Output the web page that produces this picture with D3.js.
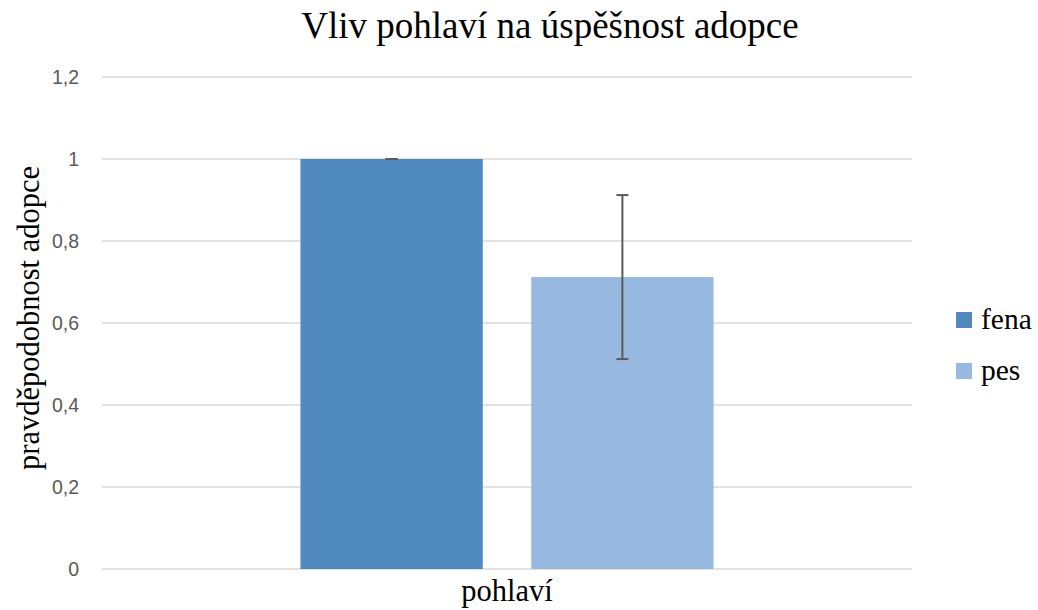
<!DOCTYPE html>
<html>
<head>
<meta charset="utf-8">
<script src="https://cdn.jsdelivr.net/npm/d3@7"></script>
<style>
  body { margin: 0; background: #fff; }
  svg text { font-family: "Liberation Serif", "Times New Roman", serif; fill: #000; }
  .tick text { font-family: "Liberation Sans", Calibri, sans-serif; fill: #595959; font-size: 19.5px; }
</style>
</head>
<body>
<svg id="chart" width="1038" height="610"></svg>
<script>
// data
let categories = ["pohlaví"]
let series = ["fena", "pes"]
let values = [1, 0.712]
let errors = [0, 0.2]
let colors = ["#4f89bd", "#98b9df"]
let yTicks = [0, 0.2, 0.4, 0.6, 0.8, 1, 1.2]

let svg = d3.select("#chart")
let margin = { left: 102, right: 126, top: 77, bottom: 41 }
let width = 1038, height = 610

let x0 = d3.scaleBand()
  .domain(categories)
  .range([margin.left, width - margin.right])

let x1 = d3.scaleBand()
  .domain(series)
  .range([x0.bandwidth() * 0.245, x0.bandwidth() * 0.755])
  .paddingInner(0.21)

let y = d3.scaleLinear()
  .domain([0, 1.2])
  .range([height - margin.bottom, margin.top])

// gridlines
svg.append("g")
  .selectAll("line")
  .data(yTicks)
  .enter()
  .append("line")
  .attr("x1", margin.left)
  .attr("x2", width - margin.right)
  .attr("y1", d => y(d))
  .attr("y2", d => y(d))
  .attr("stroke", "#d9d9d9")
  .attr("stroke-width", 1.5)

// y axis labels
let yAxis = svg.append("g")
  .attr("transform", "translate(" + (margin.left - 20) + ",0)")
  .call(d3.axisLeft(y).tickValues(yTicks).tickSize(0).tickFormat(d => String(d).replace(".", ",")))
yAxis.select(".domain").remove()
yAxis.selectAll(".tick text").attr("dy", "0.35em")

// bars
let g = svg.append("g")
  .selectAll("g")
  .data(categories)
  .enter()
  .append("g")
  .attr("transform", d => "translate(" + x0(d) + ",0)")

g.selectAll("rect")
  .data(series.map((s, i) => ({ s: s, v: values[i], e: errors[i], c: colors[i] })))
  .enter()
  .append("rect")
  .attr("x", d => x1(d.s))
  .attr("y", d => y(d.v))
  .attr("width", x1.bandwidth())
  .attr("height", d => y(0) - y(d.v))
  .attr("fill", d => d.c)

// error bars
let err = g.selectAll("g.err")
  .data(series.map((s, i) => ({ s: s, v: values[i], e: errors[i] })))
  .enter()
  .append("g")
  .attr("class", "err")
  .attr("stroke", "#5a5a5a")
  .attr("stroke-width", 2)

err.append("line")
  .attr("x1", d => x1(d.s) + x1.bandwidth() / 2)
  .attr("x2", d => x1(d.s) + x1.bandwidth() / 2)
  .attr("y1", d => y(d.v + d.e))
  .attr("y2", d => y(d.v - d.e))

err.selectAll("line.cap")
  .data(d => [d.v + d.e, d.v - d.e].map(t => ({ s: d.s, t: t })))
  .enter()
  .append("line")
  .attr("class", "cap")
  .attr("x1", d => x1(d.s) + x1.bandwidth() / 2 - 6)
  .attr("x2", d => x1(d.s) + x1.bandwidth() / 2 + 6)
  .attr("y1", d => y(d.t))
  .attr("y2", d => y(d.t))

// category label
svg.append("text")
  .attr("x", x0(categories[0]) + x0.bandwidth() / 2)
  .attr("y", 601)
  .attr("text-anchor", "middle")
  .attr("font-size", "30.5px")
  .text(categories[0])

// title
svg.append("text")
  .attr("x", 550)
  .attr("y", 38)
  .attr("text-anchor", "middle")
  .attr("font-size", "37px")
  .text("Vliv pohlaví na úspěšnost adopce")

// y title
svg.append("text")
  .attr("transform", "translate(39,318) rotate(-90)")
  .attr("text-anchor", "middle")
  .attr("font-size", "30.5px")
  .text("pravděpodobnost adopce")

// legend
let legend = svg.append("g")
  .selectAll("g")
  .data(series)
  .enter()
  .append("g")
  .attr("transform", (d, i) => "translate(956," + (312 + i * 51) + ")")

legend.append("rect")
  .attr("width", 16)
  .attr("height", 16)
  .attr("fill", (d, i) => colors[i])

legend.append("text")
  .attr("x", 25)
  .attr("y", 16.5)
  .attr("font-size", "29.5px")
  .text(d => d)
</script>
</body>
</html>
